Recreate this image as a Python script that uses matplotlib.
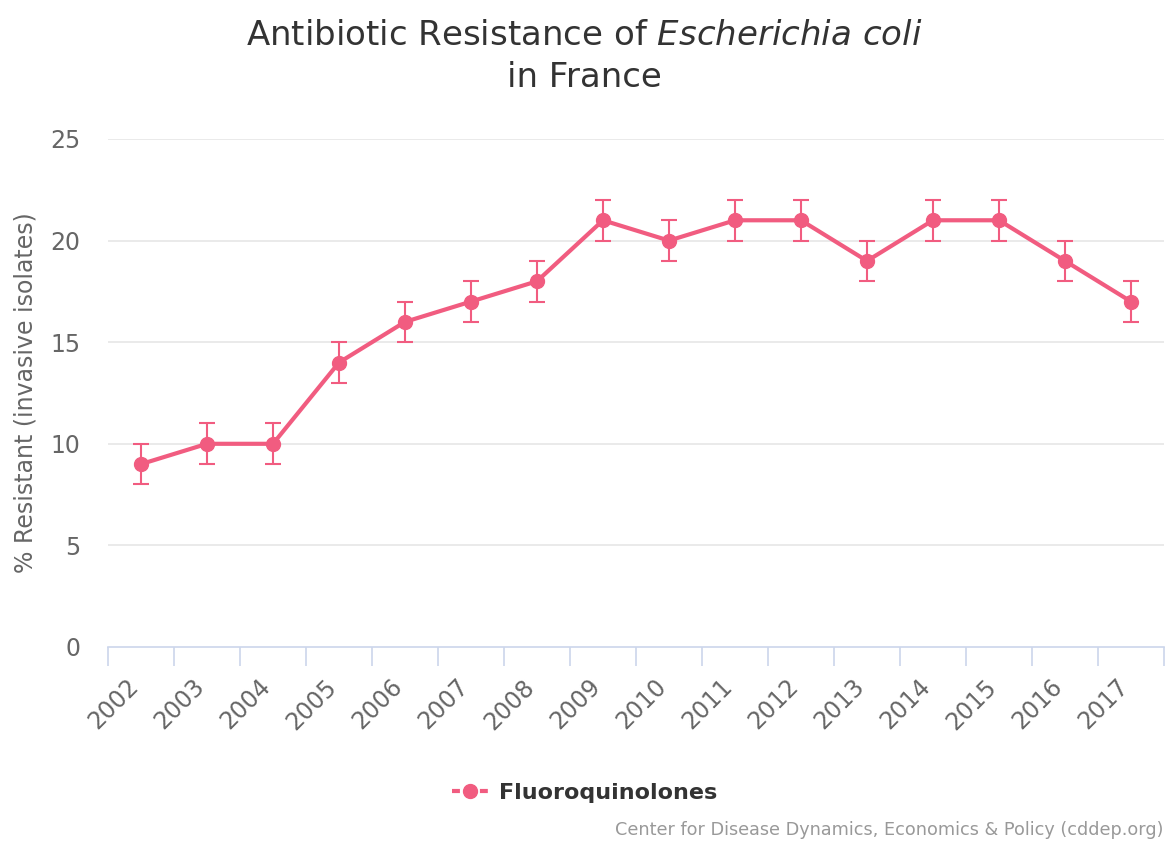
import matplotlib
matplotlib.use('Agg')
import matplotlib.pyplot as plt
import matplotlib.transforms as mtransforms
from matplotlib.lines import Line2D

years = ['2002','2003','2004','2005','2006','2007','2008','2009',
         '2010','2011','2012','2013','2014','2015','2016','2017']
resistant = [9, 10, 10, 14, 16, 17, 18, 21, 20, 21, 21, 19, 21, 21, 19, 17]
err_low = [1, 1, 1, 1, 1, 1, 1, 1, 1, 1, 1, 1, 1, 1, 1, 1]
err_high = [1, 1, 1, 1, 1, 1, 1, 1, 1, 1, 1, 1, 1, 1, 1, 1]
yticks = [0, 5, 10, 15, 20, 25]

pink = '#f15c80'

fig = plt.figure(figsize=(11.69, 8.41), dpi=100)
ax = fig.add_axes([108/1169, 1-647/841, (1164-108)/1169, (647-139)/841])

x = list(range(len(years)))

# grid lines
for v in yticks[1:]:
    ax.axhline(v, color='#e6e6e6', lw=1.2, zorder=0)

ax.errorbar(x, resistant, yerr=[err_low, err_high], fmt='none',
            ecolor=pink, elinewidth=1.5, capsize=6, capthick=1.5, zorder=2)
ax.plot(x, resistant, color=pink, lw=3, marker='o', markersize=10, zorder=3)

ax.set_xlim(-0.5, len(years)-0.5)
ax.set_ylim(0, 25)

for s in ['top', 'right', 'left']:
    ax.spines[s].set_visible(False)
ax.spines['bottom'].set_color('#ccd6eb')
ax.spines['bottom'].set_linewidth(1.2)

ax.set_yticks(yticks)
ax.tick_params(axis='y', length=0, labelsize=17, labelcolor='#666666', pad=20)

ax.set_xticks(x)
ax.set_xticklabels(years, rotation=45, ha='right', va='center', rotation_mode='anchor')
ax.tick_params(axis='x', length=0, labelsize=17, labelcolor='#666666', pad=26)
shift = mtransforms.ScaledTranslation(-6/100, 0, fig.dpi_scale_trans)
for lbl in ax.get_xticklabels():
    lbl.set_transform(lbl.get_transform() + shift)
ax.set_xticks([i - 0.5 for i in range(len(years)+1)], minor=True)
ax.tick_params(axis='x', which='minor', length=14, color='#ccd6eb', width=1.2)

ax.set_ylabel('% Resistant (invasive isolates)', fontsize=17, color='#666666')
ax.yaxis.set_label_coords(-0.067, 0.5)

fig.text(0.5, 0.958, r'Antibiotic Resistance of $\mathit{Escherichia\ coli}$',
         ha='center', va='center', fontsize=24.5, color='#333333')
fig.text(0.5, 0.908, 'in France', ha='center', va='center', fontsize=24.5, color='#333333')

# legend handle: short dash, marker, short dash
handle = Line2D([], [], color=pink, lw=3, ls=(0, (1.9, 4.8, 1.9, 4.8)),
                marker='o', markersize=10)
leg = fig.legend([handle], ['Fluoroquinolones'], loc='center', bbox_to_anchor=(0.5, 1-793/841),
                 frameon=False, handlelength=1.62, handletextpad=0.5,
                 prop={'size': 16, 'weight': 'bold'})
for t in leg.get_texts():
    t.set_color('#333333')

fig.text(1163/1169, 1-830/841, 'Center for Disease Dynamics, Economics & Policy (cddep.org)',
         ha='right', va='center', fontsize=12.7, color='#999999')

fig.savefig('out.png', dpi=100)
